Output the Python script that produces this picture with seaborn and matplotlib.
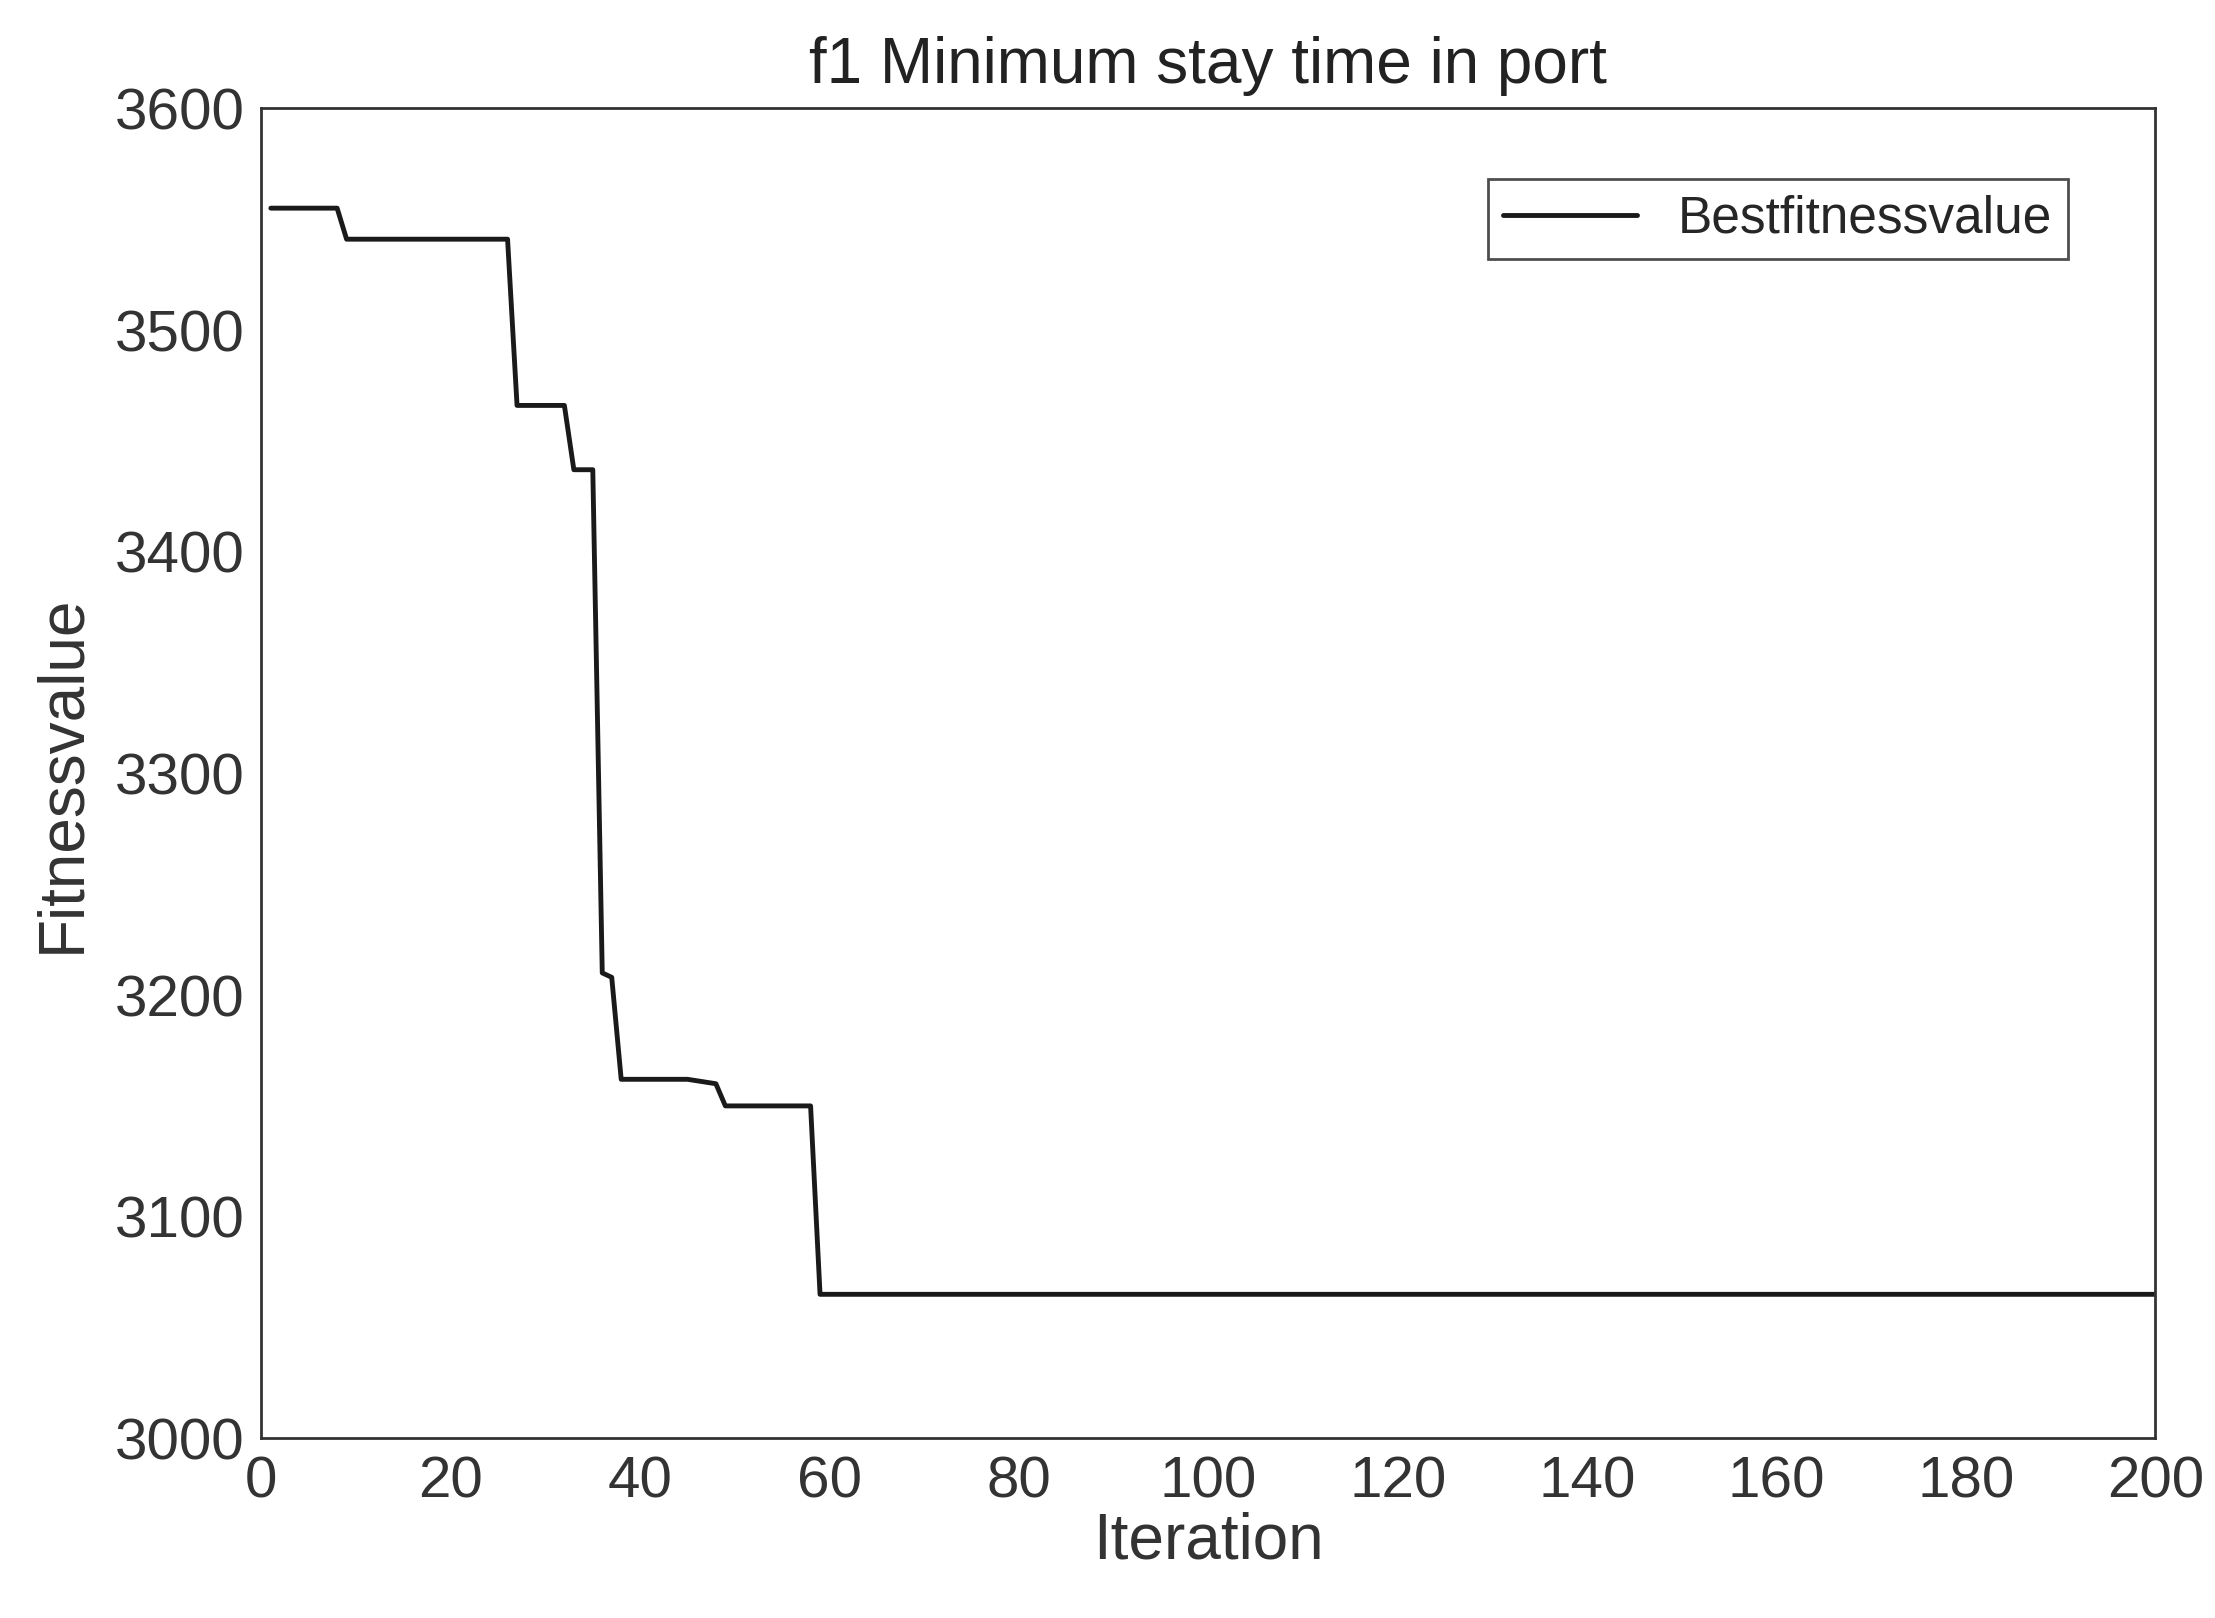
import pandas as pd
import seaborn as sns
import matplotlib.pyplot as plt

# Best fitness value breakpoints
iteration = [1, 8, 9, 26, 27, 32, 33, 35, 36, 37, 38, 45, 48, 49, 50, 58, 59, 200]
fitness = [3555, 3555, 3541, 3541, 3466, 3466, 3437, 3437, 3210, 3208, 3162, 3162, 3160, 3150, 3150, 3150, 3065, 3065]

df = pd.DataFrame({'Iteration': iteration, 'Fitnessvalue': fitness})

sns.set_style('white')
plt.rcParams['font.family'] = ['Liberation Sans', 'DejaVu Sans']

fig = plt.figure(figsize=(22.15, 16.18), dpi=100)
ax = fig.add_axes([0.118, 0.111, 0.855, 0.822])

sns.lineplot(data=df, x='Iteration', y='Fitnessvalue', ax=ax, color='#1a1a1a',
             linewidth=3.5, label='Bestfitnessvalue', estimator=None, sort=False)

ax.set_xlim(0, 200)
ax.set_ylim(3000, 3600)
ax.set_xticks(range(0, 201, 20))
ax.set_yticks(range(3000, 3601, 100))
ax.tick_params(direction='in', length=12, width=2, labelsize=42, colors='#333333', pad=12)
for s in ax.spines.values():
    s.set_color('#333333')
    s.set_linewidth(2)

ax.set_title('f1 Minimum stay time in port', fontsize=46, color='#222222', pad=18)
ax.set_xlabel('Iteration', fontsize=46, color='#333333', labelpad=2)
ax.set_ylabel('Fitnessvalue', fontsize=46, color='#333333', labelpad=16)

leg = ax.legend(loc='upper right', fontsize=37, frameon=True, fancybox=False,
                handlelength=2.6, borderaxespad=0.6, bbox_to_anchor=(0.97, 0.97),
                borderpad=0.3)
leg.get_frame().set_edgecolor('#222222')
leg.get_frame().set_linewidth(2)

fig.savefig('out.png', dpi=100)
